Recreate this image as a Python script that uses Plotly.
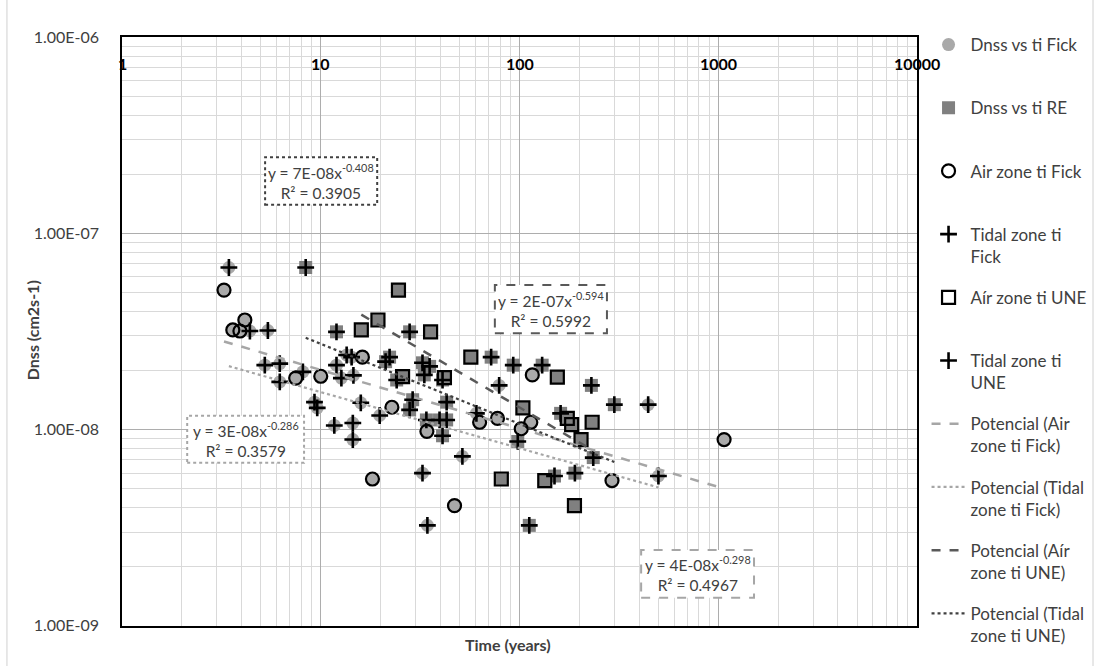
import numpy as np
import plotly.graph_objects as go

# ---- measured points: diffusion coefficient (cm2/s) vs exposure time (years) ----
air_fick_t = [3.26, 3.61, 3.92, 4.15, 7.48, 10.0, 16.2, 22.8, 34.2, 18.2, 47.1,
              63.0, 77.5, 116, 114, 102, 292, 1070]
air_fick_d = [5.14e-8, 3.22e-8, 3.18e-8, 3.62e-8, 1.83e-8, 1.87e-8, 2.34e-8, 1.30e-8,
              9.8e-9, 5.6e-9, 4.1e-9, 1.09e-8, 1.14e-8, 1.90e-8, 1.09e-8, 1.01e-8,
              5.5e-9, 8.9e-9]

tidal_fick_t = [3.45, 4.40, 5.42, 5.23, 6.22, 6.22, 8.13, 9.3, 9.6, 11.7, 14.5, 14.5,
                12.0, 13.5, 14.3, 12.7, 14.6, 15.9, 19.8, 32.5, 34.4, 51.6, 60.7, 79,
                444, 500]
tidal_fick_d = [6.7e-8, 3.18e-8, 3.20e-8, 2.13e-8, 2.17e-8, 1.75e-8, 1.97e-8, 1.38e-8,
                1.29e-8, 1.05e-8, 1.08e-8, 8.9e-9, 2.13e-8, 2.40e-8, 2.34e-8, 1.83e-8,
                1.89e-8, 1.37e-8, 1.18e-8, 6.0e-9, 3.25e-9, 7.3e-9, 1.21e-8, 1.68e-8,
                1.34e-8, 5.8e-9]

air_une_t = [24.6, 19.4, 16.0, 35.7, 25.8, 41.9, 56.9, 155, 104, 174, 183, 232, 204,
             81, 134, 189]
air_une_d = [5.14e-8, 3.62e-8, 3.22e-8, 3.15e-8, 1.86e-8, 1.84e-8, 2.34e-8, 1.85e-8,
             1.29e-8, 1.14e-8, 1.06e-8, 1.09e-8, 8.9e-9, 5.6e-9, 5.5e-9, 4.1e-9]

tidal_une_t = [8.4, 12.0, 28.0, 22.2, 21.2, 24.1, 32.5, 35.3, 33.2, 41, 43, 29, 28, 34,
               39.6, 43, 41, 72, 93, 130, 230, 300, 161, 98, 235, 150, 190, 112]
tidal_une_d = [6.7e-8, 3.15e-8, 3.15e-8, 2.34e-8, 2.22e-8, 1.79e-8, 2.19e-8, 2.10e-8,
               1.90e-8, 1.79e-8, 1.38e-8, 1.42e-8, 1.26e-8, 1.12e-8, 1.12e-8, 1.12e-8,
               9.3e-9, 2.34e-8, 2.13e-8, 2.13e-8, 1.68e-8, 1.34e-8, 1.21e-8, 8.7e-9,
               7.2e-9, 5.8e-9, 6.0e-9, 3.25e-9]

# ---- power-law trendlines y = a * x^b ----
fit_a = [4e-8, 3e-8, 2e-7, 7e-8]
fit_b = [-0.298, -0.286, -0.594, -0.408]
fit_r2 = [0.4967, 0.3579, 0.5992, 0.3905]

# ---- axis labels ----
x_ticks = [1, 10, 100, 1000, 10000]
x_ticklabels = ["1", "10", "100", "1000", "10000"]
y_ticks = [1e-9, 1e-8, 1e-7, 1e-6]
y_ticklabels = ["1.00E-09", "1.00E-08", "1.00E-07", "1.00E-06"]

FONT = "Lato, Calibri, Carlito, 'Liberation Sans', sans-serif"
TXT = "#404040"
PAD = "<br>\u00a0"   # keeps every legend entry two lines tall so the pitch is even

fig = go.Figure()

# grey base series
fig.add_trace(go.Scatter(
    x=air_fick_t + tidal_fick_t, y=air_fick_d + tidal_fick_d, mode="markers",
    name="Dnss vs ti Fick" + PAD, legendgroup="g1",
    marker=dict(symbol="circle", size=13, color="#A9A9A9", line=dict(width=0))))
fig.add_trace(go.Scatter(
    x=air_une_t + tidal_une_t, y=air_une_d + tidal_une_d, mode="markers",
    name="Dnss vs ti RE" + PAD, legendgroup="g2",
    marker=dict(symbol="square", size=13, color="#808080", line=dict(width=0))))

# black overlays per zone
fig.add_trace(go.Scatter(
    x=air_fick_t, y=air_fick_d, mode="markers", name="Air zone ti Fick" + PAD, legendgroup="g3",
    marker=dict(symbol="circle-open", size=13, color="black", line=dict(width=2.2, color="black"))))
fig.add_trace(go.Scatter(
    x=tidal_fick_t, y=tidal_fick_d, mode="markers", name="Tidal zone ti<br>Fick", legendgroup="g4",
    marker=dict(symbol="cross-thin", size=12, color="black", line=dict(width=2.6, color="black"))))
fig.add_trace(go.Scatter(
    x=air_une_t, y=air_une_d, mode="markers", name="Aír zone ti UNE" + PAD, legendgroup="g5",
    marker=dict(symbol="square-open", size=13, color="black", line=dict(width=2.2, color="black"))))
fig.add_trace(go.Scatter(
    x=tidal_une_t, y=tidal_une_d, mode="markers", name="Tidal zone ti<br>UNE", legendgroup="g6",
    marker=dict(symbol="cross-thin", size=12, color="black", line=dict(width=2.6, color="black"))))

# trendlines over each series' time span
series_t = [air_fick_t, tidal_fick_t, air_une_t, tidal_une_t]
line_styles = [
    dict(color="#A6A6A6", width=2.5, dash="dash"),
    dict(color="#A6A6A6", width=2.2, dash="dot"),
    dict(color="#595959", width=2.5, dash="dash"),
    dict(color="#404040", width=2.2, dash="dot"),
]
legend_names = ["Potencial (Air<br>zone ti Fick)", "Potencial (Tidal<br>zone ti Fick)",
                "Potencial (Aír<br>zone ti UNE)", "Potencial (Tidal<br>zone ti UNE)"]
for i in range(4):
    t = np.geomspace(min(series_t[i]), max(series_t[i]), 60)
    fig.add_trace(go.Scatter(
        x=t, y=fit_a[i] * t ** fit_b[i], mode="lines", name=legend_names[i],
        legendgroup=f"t{i}", line=line_styles[i], hoverinfo="skip"))

# equation labels with dashed / dotted frames (paper coordinates)
boxes = [
    # (fit index, x0, x1, y0, y1, frame style)
    (3, 0.180, 0.321, 0.715, 0.796, dict(color="#404040", width=2, dash="dot")),
    (2, 0.469, 0.610, 0.497, 0.579, dict(color="#595959", width=2, dash="dash")),
    (1, 0.082, 0.229, 0.277, 0.357, dict(color="#A6A6A6", width=2, dash="dot")),
    (0, 0.653, 0.795, 0.048, 0.129, dict(color="#A6A6A6", width=2, dash="dash")),
]
for idx, x0, x1, y0, y1, ln in boxes:
    fig.add_shape(type="rect", xref="paper", yref="paper", x0=x0, x1=x1, y0=y0, y1=y1,
                  line=ln, fillcolor="white", layer="above")
    eq = f"y = {fit_a[idx]:.0E}x<sup>{fit_b[idx]}</sup><br>R² = {fit_r2[idx]:.4f}"
    fig.add_annotation(xref="paper", yref="paper", x=(x0 + x1) / 2, y=(y0 + y1) / 2,
                       xanchor="center", yanchor="middle",
                       text=eq, showarrow=False, align="center",
                       font=dict(family=FONT, size=15.5, color=TXT))

# x tick labels hang just below the top frame line
for v, lab in zip(x_ticks, x_ticklabels):
    fig.add_annotation(xref="x", yref="paper", x=np.log10(v), y=1, yanchor="top",
                       xanchor="center", yshift=-15, text=f"<b>{lab}</b>", showarrow=False,
                       font=dict(family=FONT, size=16, color="black"))

# axis titles
fig.add_annotation(xref="paper", yref="paper", x=0.485, y=-0.032, yanchor="middle",
                   xanchor="center", text="<b>Time (years)</b>", showarrow=False,
                   font=dict(family=FONT, size=16, color=TXT))
fig.add_annotation(xref="paper", yref="paper", x=-0.113, y=0.5025, yanchor="middle",
                   xanchor="center", textangle=-90, text="<b>Dnss (cm2s-1)</b>",
                   showarrow=False, font=dict(family=FONT, size=16, color=TXT))

# chart-area edges
for xp in (-0.1447, 1.2214):
    fig.add_shape(type="line", xref="paper", yref="paper", x0=xp, x1=xp, y0=-0.08, y1=1.08,
                  line=dict(color="#D0D0D0", width=1))

x_minor = [k * 10 ** e for e in range(0, 4) for k in range(2, 10)]
y_minor = [k * 10.0 ** e for e in range(-9, -6) for k in range(2, 10)]

fig.update_xaxes(
    type="log", range=[0, 4], showticklabels=False, tickvals=x_ticks, ticks="",
    showgrid=True, gridcolor="#ADADAD", gridwidth=1,
    minor=dict(tickvals=x_minor, showgrid=True, gridcolor="#D9D9D9", gridwidth=1, ticks=""),
    showline=True, linecolor="black", linewidth=1.5, mirror=True, zeroline=False)
fig.update_yaxes(
    type="log", range=[-9.001, -5.999], tickvals=y_ticks, ticktext=y_ticklabels,
    tickfont=dict(family=FONT, size=16, color=TXT), ticks="", ticklabelstandoff=18,
    showgrid=True, gridcolor="#ADADAD", gridwidth=1,
    minor=dict(tickvals=y_minor, showgrid=True, gridcolor="#D9D9D9", gridwidth=1, ticks=""),
    showline=True, linecolor="black", linewidth=1.5, mirror=True, zeroline=False)

fig.update_layout(
    width=1097, height=666, autosize=False,
    margin=dict(l=122, r=180, t=37, b=40, autoexpand=False),
    paper_bgcolor="white", plot_bgcolor="white",
    font=dict(family=FONT, color=TXT),
    legend=dict(x=1.012, y=1.017, xanchor="left", yanchor="top", maxheight=664,
                valign="top", itemwidth=34,
                font=dict(family=FONT, size=17, color=TXT),
                traceorder="grouped", tracegroupgap=16, bgcolor="rgba(0,0,0,0)"),
    showlegend=True,
)

fig.write_html("out.html")
